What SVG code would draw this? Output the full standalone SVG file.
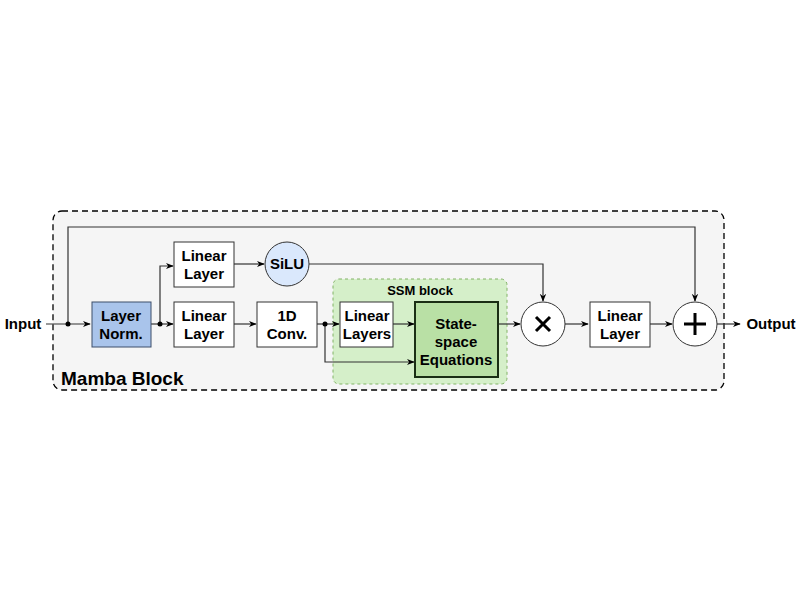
<svg xmlns="http://www.w3.org/2000/svg" width="800" height="600" viewBox="0 0 800 600">
<style>
text{font-family:"Liberation Sans",Arial,sans-serif;font-weight:bold;fill:#000;text-anchor:middle}
.t{font-size:15px}
.box{fill:#fff;stroke:#333;stroke-width:1}
.ln{fill:none;stroke:#333;stroke-width:1.2}
</style>
<defs>
<marker id="ar" viewBox="0 0 10 10" refX="9" refY="5" markerWidth="8" markerHeight="8" markerUnits="userSpaceOnUse" orient="auto">
<path d="M0,1 L10,5 L0,9 L3,5 Z" fill="#000"/>
</marker>
</defs>
<rect width="800" height="600" fill="#fff"/>
<g id="mamba">
<rect x="53" y="211" width="671" height="179" rx="9" fill="#f5f5f5" stroke="#000" stroke-width="1.3" stroke-dasharray="6,4"/>
<text x="61" y="385" style="font-size:19px;text-anchor:start">Mamba Block</text>
</g>
<g id="ssm">
<rect x="333" y="279" width="174" height="105" rx="6" fill="#d5efc9" stroke="#82b366" stroke-width="1" stroke-dasharray="3,3"/>
<text x="420" y="295" style="font-size:13px">SSM block</text>
</g>
<g id="connectors">
<path class="ln" d="M46,324 H90" marker-end="url(#ar)"/>
<path class="ln" d="M68,324 V227 H695 V301" marker-end="url(#ar)"/>
<path class="ln" d="M151,324 H173" marker-end="url(#ar)"/>
<path class="ln" d="M160,324 V266 H173" marker-end="url(#ar)"/>
<path class="ln" d="M234,264 H264" marker-end="url(#ar)"/>
<path class="ln" d="M309,264 H543 V301" marker-end="url(#ar)"/>
<path class="ln" d="M234,324 H256" marker-end="url(#ar)"/>
<path class="ln" d="M317,324 H339" marker-end="url(#ar)"/>
<path class="ln" d="M325,324 V362 H414" marker-end="url(#ar)"/>
<path class="ln" d="M393,324 H414" marker-end="url(#ar)"/>
<path class="ln" d="M498,324 H520" marker-end="url(#ar)"/>
<path class="ln" d="M565,324 H588" marker-end="url(#ar)"/>
<path class="ln" d="M650,324 H672" marker-end="url(#ar)"/>
<path class="ln" d="M717,324 H740" marker-end="url(#ar)"/>
<circle cx="68" cy="324" r="2.5" fill="#000"/>
<circle cx="160" cy="324" r="2.5" fill="#000"/>
<circle cx="325" cy="324" r="2.5" fill="#000"/>
</g>
<g id="input"><text class="t" x="23" y="329">Input</text></g>
<g id="output"><text class="t" x="771" y="329">Output</text></g>
<g id="layernorm">
<rect x="92" y="302" width="59" height="45" fill="#a9c4eb" stroke="#3c4e6a" stroke-width="1"/>
<text class="t" x="121" y="321">Layer</text><text class="t" x="121" y="339">Norm.</text>
</g>
<g id="linear1">
<rect class="box" x="174" y="242" width="60" height="45"/>
<text class="t" x="204" y="261">Linear</text><text class="t" x="204" y="279">Layer</text>
</g>
<g id="silu">
<circle cx="287" cy="264" r="22" fill="#dae8fc" stroke="#333" stroke-width="1"/>
<text class="t" x="287" y="269">SiLU</text>
</g>
<g id="linear2">
<rect class="box" x="174" y="302" width="60" height="45"/>
<text class="t" x="204" y="321">Linear</text><text class="t" x="204" y="339">Layer</text>
</g>
<g id="conv">
<rect class="box" x="257" y="302" width="60" height="45"/>
<text class="t" x="287" y="321">1D</text><text class="t" x="287" y="339">Conv.</text>
</g>
<g id="linearlayers">
<rect class="box" x="340" y="302" width="53" height="45"/>
<text class="t" x="367" y="321">Linear</text><text class="t" x="367" y="339">Layers</text>
</g>
<g id="statespace">
<rect x="415" y="302" width="83" height="75" fill="#b9e0a5" stroke="#1a2e14" stroke-width="2"/>
<text class="t" x="456" y="329">State-</text><text class="t" x="456" y="347">space</text><text class="t" x="456" y="365">Equations</text>
</g>
<g id="mult">
<circle cx="543" cy="324" r="22" fill="#fff" stroke="#333" stroke-width="1"/>
<path d="M536,317 L550,331 M550,317 L536,331" stroke="#000" stroke-width="3"/>
</g>
<g id="linear3">
<rect class="box" x="590" y="302" width="60" height="45"/>
<text class="t" x="620" y="321">Linear</text><text class="t" x="620" y="339">Layer</text>
</g>
<g id="add">
<circle cx="695" cy="324" r="22" fill="#fff" stroke="#333" stroke-width="1"/>
<path d="M695,313 V335 M684,324 H706" stroke="#000" stroke-width="3"/>
</g>
</svg>
